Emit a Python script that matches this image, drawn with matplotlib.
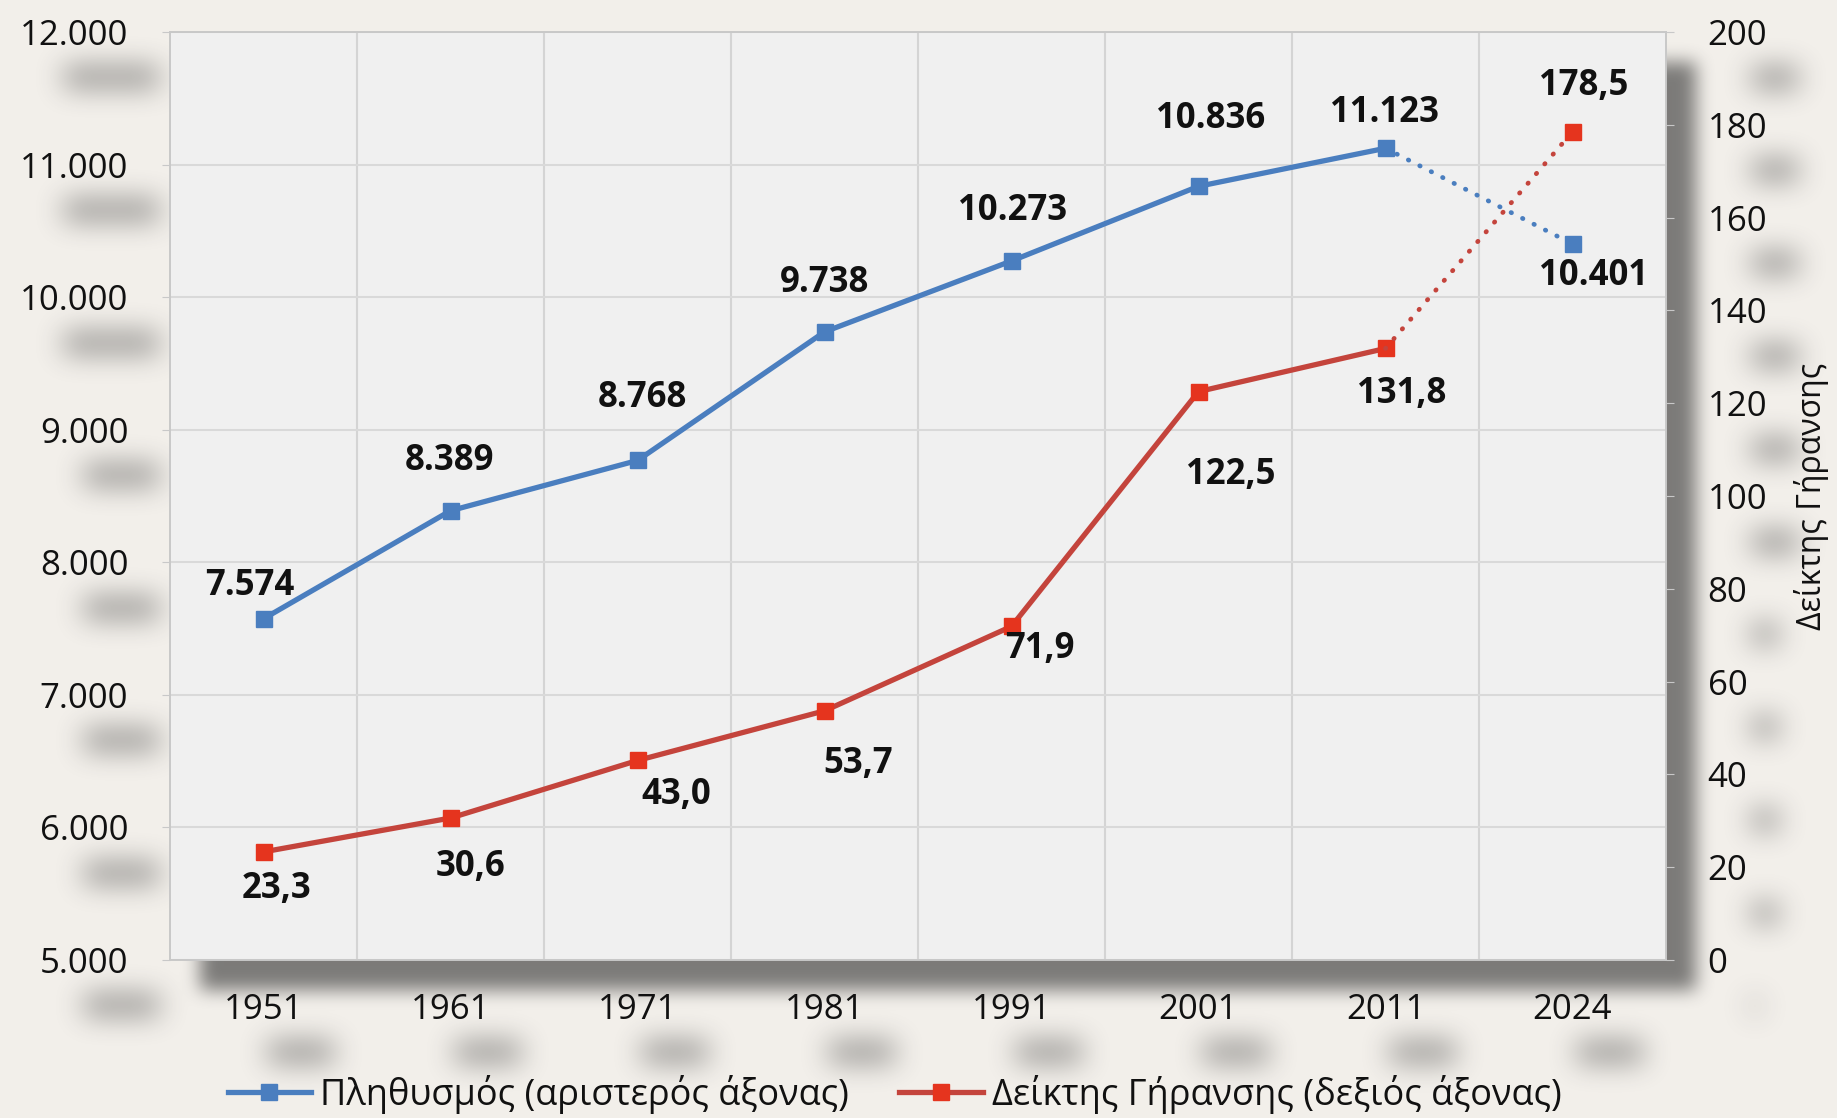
import numpy as np
import matplotlib
matplotlib.use('Agg')
from matplotlib import pyplot as plt
from matplotlib.ticker import FuncFormatter, FixedLocator

plt.rcParams['font.family'] = ['Open Sans', 'DejaVu Sans']

# data
years = ['1951', '1961', '1971', '1981', '1991', '2001', '2011', '2024']
population = [7574, 8389, 8768, 9738, 10273, 10836, 11123, 10401]
aging_index = [23.3, 30.6, 43.0, 53.7, 71.9, 122.5, 131.8, 178.5]
pop_name = 'Πληθυσμός (αριστερός άξονας)'
aging_name = 'Δείκτης Γήρανσης (δεξιός άξονας)'
right_title = 'Δείκτης Γήρανσης'

# label offsets in pixels (dx, dy up) - layout only
pop_off = [(-14, 33), (-1, 50), (5, 62), (0, 49), (1, 50), (12, 67), (-1, 35), (21, -32)]
age_off = [(13, -37), (20, -49), (39, -35), (34, -53), (28, -23), (32, -83), (16, -46), (11, 46)]

BG = '#F2EFEA'
PLOT_BG = '#F0F0F0'
BLUE = '#4A7EBF'
RED_LINE = '#C4443C'
RED_MARK = '#E5341E'
TXT = '#111111'

W, H = 1837, 1118
fig = plt.figure(figsize=(W / 100, H / 100), dpi=100, facecolor=BG)
ax = fig.add_axes([170 / W, 1 - 960 / H, (1666 - 170) / W, (960 - 32) / H])
ax.set_facecolor(PLOT_BG)
ax2 = ax.twinx()
ax2.patch.set_visible(False)

x = np.arange(len(years))
lw = 3.8
ms = 12

# population, solid to 2011 then dotted to 2024
ln1, = ax.plot(x[:-1], population[:-1], color=BLUE, lw=lw, marker='s', ms=ms,
               mfc=BLUE, mec=BLUE, zorder=3)
ax.plot(x[-2:], population[-2:], color=BLUE, lw=lw * 0.9, linestyle=(0, (0.1, 2.6)),
        dash_capstyle='round', zorder=3)
ax.plot(x[-1:], population[-1:], ls='none', marker='s', ms=ms, mfc=BLUE, mec=BLUE, zorder=3)

ln2, = ax2.plot(x[:-1], aging_index[:-1], color=RED_LINE, lw=lw, marker='s', ms=ms,
                mfc=RED_MARK, mec=RED_MARK, zorder=3)
ax2.plot(x[-2:], aging_index[-2:], color=RED_LINE, lw=lw * 0.9, linestyle=(0, (0.1, 2.6)),
         dash_capstyle='round', zorder=3)
ax2.plot(x[-1:], aging_index[-1:], ls='none', marker='s', ms=ms, mfc=RED_MARK, mec=RED_MARK, zorder=3)

for i, v in enumerate(population):
    ax.annotate(f'{v:,}'.replace(',', '.'), (x[i], v), xytext=pop_off[i],
                textcoords='offset pixels', ha='center', va='center',
                fontsize=25, fontweight='bold', color=TXT, zorder=5)
for i, v in enumerate(aging_index):
    ax2.annotate(f'{v:.1f}'.replace('.', ','), (x[i], v), xytext=age_off[i],
                 textcoords='offset pixels', ha='center', va='center',
                 fontsize=25, fontweight='bold', color=TXT, zorder=5)

ax.set_xlim(-0.5, len(years) - 0.5)
ax.set_ylim(5000, 12000)
ax2.set_ylim(0, 200)
ax.set_yticks(np.arange(5000, 12001, 1000))
ax2.set_yticks(np.arange(0, 201, 20))
ax.yaxis.set_major_formatter(FuncFormatter(lambda v, p: f'{int(v):,}'.replace(',', '.')))
ax.set_xticks(x)
ax.set_xticklabels(years)
ax.xaxis.set_minor_locator(FixedLocator(x[:-1] + 0.5))

ax.grid(True, axis='y', color='#D9D9D9', lw=1.5)
ax.grid(True, axis='x', which='minor', color='#D4D4D4', lw=1.5)
ax.set_axisbelow(True)

for a in (ax, ax2):
    for s in a.spines.values():
        s.set_color('#C8C8C8')
        s.set_linewidth(1.2)
ax.tick_params(axis='y', length=6, color='#C8C8C8', pad=24, labelsize=25, labelcolor=TXT)
ax.tick_params(axis='x', which='major', length=0, pad=24, labelsize=25, labelcolor=TXT)
ax.tick_params(axis='x', which='minor', length=0)
ax2.tick_params(axis='y', length=6, color='#C8C8C8', pad=24, labelsize=25, labelcolor=TXT)
ax2.set_ylabel(right_title, fontsize=23, color=TXT)
ax2.yaxis.set_label_coords((1794 - 170) / (1666 - 170), 0.5)

fig.legend([ln1, ln2], [pop_name, aging_name], loc='center', bbox_to_anchor=(0.487, 0.021),
           ncol=2, frameon=False, fontsize=26, handlelength=2.3, handletextpad=0.25,
           columnspacing=1.4, labelcolor=TXT)

# soft drop shadows (plot area and tick labels)
fig.canvas.draw()


def box1d(a, r, axis):
    a = np.moveaxis(a, axis, 0)
    p = np.pad(a, ((r + 1, r), (0, 0)))
    c = np.cumsum(p, axis=0)
    out = (c[2 * r + 1:] - c[:-2 * r - 1]) / (2 * r + 1)
    return np.moveaxis(out, 0, axis)


def blur(a, r):
    for _ in range(3):
        a = box1d(a, r, 0)
        a = box1d(a, r, 1)
    return a


def put(arr, bb, dx, dy, val, grow=0):
    x0 = int(max(bb.x0 + dx - grow, 0)); x1 = int(min(bb.x1 + dx + grow, W))
    r0 = int(max(H - (bb.y1 + dy) - grow, 0)); r1 = int(min(H - (bb.y0 + dy) + grow, H))
    if x1 > x0 and r1 > r0:
        arr[r0:r1, x0:x1] = np.maximum(arr[r0:r1, x0:x1], val)


rend = fig.canvas.get_renderer()
plot_sh = np.zeros((H, W))
put(plot_sh, ax.get_window_extent(rend), 30, -30, 0.6)
plot_sh = blur(plot_sh, 8)

lab_sh = np.zeros((H, W))
labels = list(ax.get_yticklabels()) + list(ax2.get_yticklabels()) + list(ax.get_xticklabels())
for t in labels:
    if t.get_text():
        bb = t.get_window_extent(rend)
        put(lab_sh, bb, 38, -42, 0.5, grow=-7)
lab_sh = blur(lab_sh, 13)

alpha = np.clip(plot_sh + lab_sh, 0, 1)
rgba = np.zeros((H, W, 4))
rgba[..., :3] = 0.18
rgba[..., 3] = alpha
fig.figimage(rgba, 0, 0, origin='upper', zorder=-1)

plt.savefig('out.png', dpi=100, facecolor=BG)
